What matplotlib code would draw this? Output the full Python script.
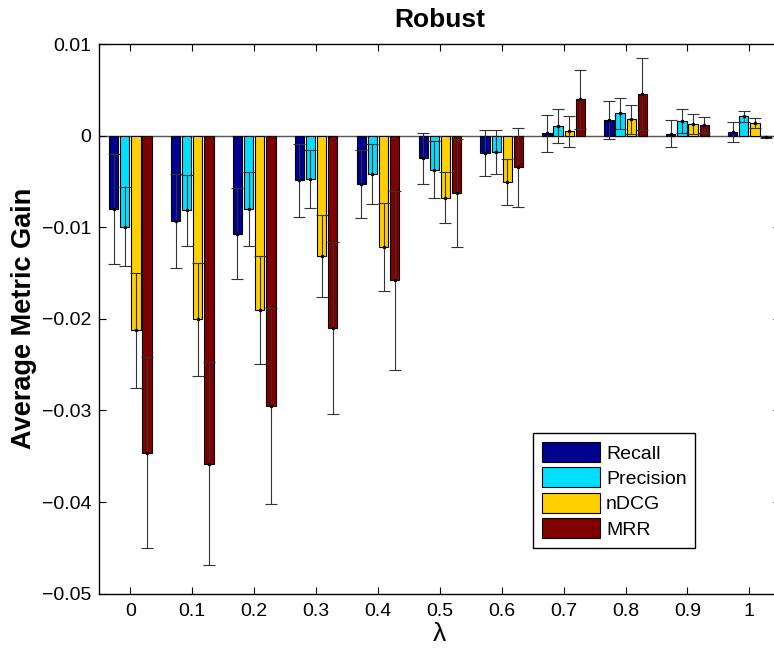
import numpy as np
import matplotlib
matplotlib.use("Agg")
import matplotlib.pyplot as plt

plt.rcParams['font.family'] = ['Liberation Sans', 'DejaVu Sans']

lambdas = [0, 0.1, 0.2, 0.3, 0.4, 0.5, 0.6, 0.7, 0.8, 0.9, 1.0]
tick_labels = ['0', '0.1', '0.2', '0.3', '0.4', '0.5', '0.6', '0.7', '0.8', '0.9', '1']
metrics = ['Recall', 'Precision', 'nDCG', 'MRR']

recall = [-0.0080, -0.0093, -0.0107, -0.00487, -0.00528, -0.00247, -0.00189,
          0.00026, 0.00171, 0.00021, 0.00044]
recall_err = [0.0060, 0.0051, 0.0050, 0.0040, 0.0037, 0.0028, 0.0025,
              0.0020, 0.0021, 0.0015, 0.0011]
precision = [-0.00994, -0.00815, -0.0080, -0.00473, -0.00418, -0.00371, -0.00175,
             0.00106, 0.00244, 0.00157, 0.00212]
precision_err = [0.0043, 0.0039, 0.0040, 0.0032, 0.0033, 0.0031, 0.0024,
                 0.0019, 0.0017, 0.0013, 0.0006]
ndcg = [-0.02125, -0.02005, -0.01906, -0.01316, -0.01218, -0.00677, -0.00502,
        0.00048, 0.00179, 0.00124, 0.00138]
ndcg_err = [0.0063, 0.0062, 0.0059, 0.0045, 0.0048, 0.0028, 0.0025,
            0.0017, 0.0016, 0.0011, 0.0005]
mrr = [-0.0346, -0.0358, -0.0295, -0.0210, -0.0158, -0.00622, -0.00346,
       0.00397, 0.00455, 0.00117, -0.00018]
mrr_err = [0.0104, 0.0111, 0.0107, 0.0094, 0.0098, 0.0059, 0.0043,
           0.0032, 0.0039, 0.0009, 0.0001]

colors = ['#00008F', '#00DFFF', '#FFCF00', '#800000']

fig = plt.figure(figsize=(7.74, 6.53), dpi=100)
ax = fig.add_axes([0.1284, 0.0908, 0.8798, 0.8418])

x = np.array(lambdas)
pitch, width = 0.018, 0.015
series = [(recall, recall_err), (precision, precision_err),
          (ndcg, ndcg_err), (mrr, mrr_err)]
for i, ((vals, errs), c, name) in enumerate(zip(series, colors, metrics)):
    xs = x + (i - 1.5) * pitch
    ax.bar(xs, vals, width, color=c, edgecolor='black', linewidth=0.8,
           label=name, zorder=2)
    ax.errorbar(xs, vals, yerr=errs, fmt='.', color='black', ecolor='#333333',
                elinewidth=0.8, capsize=4.5, capthick=0.8, markersize=3,
                zorder=3)

ax.axhline(0, color='#555555', linewidth=1.0, zorder=1)

ax.set_xlim(-0.05, 1.05)
ax.set_ylim(-0.05, 0.01)
ax.set_xticks(x)
ax.set_xticklabels(tick_labels)
ax.set_yticks([-0.05, -0.04, -0.03, -0.02, -0.01, 0, 0.01])
ax.set_yticklabels(['\u22120.05', '\u22120.04', '\u22120.03', '\u22120.02',
                    '\u22120.01', '0', '0.01'])
ax.tick_params(direction='in', length=5, width=0.8, top=True, right=True,
               labelsize=14)
ax.tick_params(axis='x', pad=7)
ax.tick_params(axis='y', pad=6)
for s in ax.spines.values():
    s.set_linewidth(1.0)

ax.set_title('Robust', fontsize=19, fontweight='bold', pad=12)
ax.set_ylabel('Average Metric Gain', fontsize=19.5, fontweight='bold', labelpad=3)
ax.set_xlabel('\u03bb', fontsize=19, labelpad=1)

leg = ax.legend(loc='lower left', bbox_to_anchor=(0.637, 0.084),
                borderaxespad=0, fontsize=14, handlelength=3.0,
                handleheight=1.2, labelspacing=0.25, handletextpad=0.3,
                borderpad=0.45, fancybox=False, framealpha=1)
leg.get_frame().set_edgecolor('black')
leg.get_frame().set_linewidth(1.0)

fig.savefig('out.png', dpi=100)
